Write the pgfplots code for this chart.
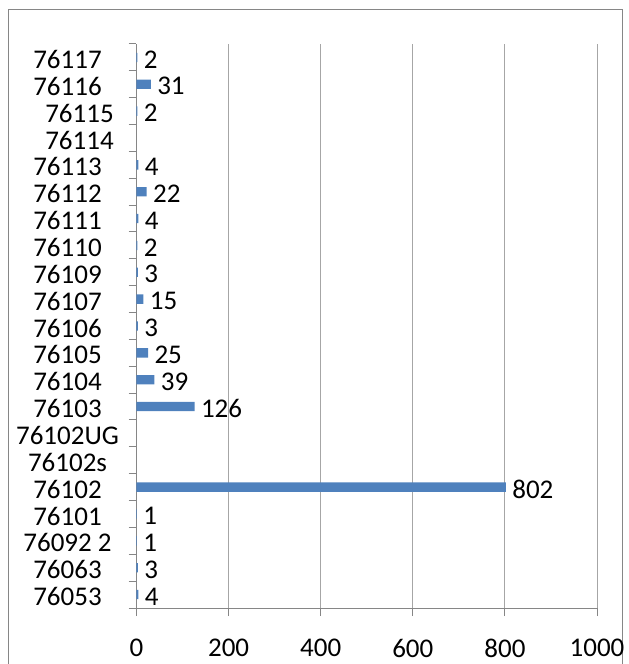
\documentclass[border=0pt]{standalone}
\usepackage{fontspec}
\setmainfont{Carlito}
\usepackage{pgfplots}
\pgfplotsset{compat=1.18}
\definecolor{barblue}{HTML}{4F81BD}
\definecolor{axgray}{HTML}{868686}
\definecolor{gridgray}{HTML}{A6A6A6}
\begin{document}
\begin{tikzpicture}[x=1pt,y=1pt]
\useasboundingbox (0,0) rectangle (629,664);
\draw[axgray, line width=1pt] (8,-5) -- (8,654) -- (622,654) -- (622,-5);
\begin{axis}[
  at={(136.5pt,56pt)}, anchor=south west,
  scale only axis, width=460.5pt, height=564pt,
  xmin=0, xmax=1000, ymin=-0.5, ymax=20.5,
  axis x line*=bottom, axis y line*=left,
  axis line style={axgray, line width=1pt},
  xtick={0,200,...,1000}, xmajorgrids, grid style={gridgray, line width=1pt},
  ytick={0,...,20},
  yticklabels={76053,76063,76092 2,76101,76102,76102s,76102UG,76103,76104,76105,76106,76107,76109,76110,76111,76112,76113,\hspace{24pt}76114,\hspace{24pt}76115,76116,76117},
  minor ytick={-0.5,0.5,...,20.5},
  tick align=outside, major tick length=8pt, minor tick length=8pt,
  tick style={axgray, line width=1pt},
  major y tick style={draw=none},
  ticklabel style={font=\fontsize{27}{31}\selectfont, text=black},
  /pgf/number format/assume math mode=true,
  /pgf/number format/1000 sep={},
  xticklabel style={anchor=center, yshift=-32pt},
  yticklabel style={anchor=center, xshift=-61pt, yshift=-2pt},
  xbar, bar width=9.3pt,
  nodes near coords, point meta=x,
  nodes near coords style={anchor=west, xshift=3pt, yshift=-2pt, font=\fontsize{27}{31}\selectfont, text=black},
]
\addplot[fill=barblue, draw=none] coordinates {
  (4,0) (3,1) (1,2) (1,3) (802,4) (126,7) (39,8) (25,9) (3,10) (15,11)
  (3,12) (2,13) (4,14) (22,15) (4,16) (2,18) (31,19) (2,20)
};
\end{axis}
\end{tikzpicture}
\end{document}
